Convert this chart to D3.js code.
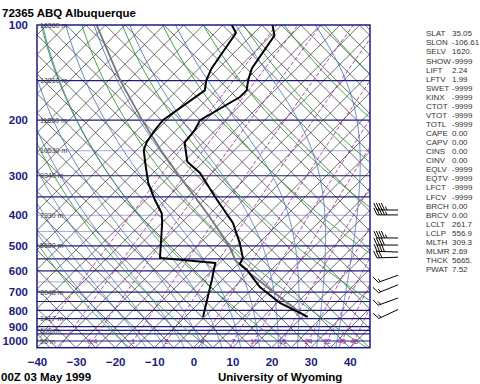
<!DOCTYPE html>
<html>
<head>
<meta charset="utf-8">
<script src="https://cdn.jsdelivr.net/npm/d3@7/dist/d3.min.js"></script>
<style>
  body { margin: 0; background: #fff; }
  svg { display: block; font-family: "Liberation Sans", Arial, sans-serif; }
</style>
</head>
<body>
<div id="chart"></div>
<script>
// sounding 72365 ABQ, 00Z 03 May 1999
const title = "72365 ABQ Albuquerque";
const dateLabel = "00Z 03 May 1999";
const sourceLabel = "University of Wyoming";

const pressureTicks = [100, 200, 300, 400, 500, 600, 700, 800, 900, 1000];
const tempTicks = [-40, -30, -20, -10, 0, 10, 20, 30, 40];
const darkIsobars = [150, 200, 300, 350, 500, 550, 600, 700, 750, 800, 850, 900, 925, 950, 1000];
const lightIsobars = [250, 400, 450, 650];

const heightP = [100, 150, 200, 250, 300, 400, 500, 700, 850, 925, 1000];
const heightLabels = ["16360 m", "13810 m", "11860 m", "10530 m", "9340 m", "7330 m", "5680 m", "3048 m", "1417 m", "690 m", "55 m"];

// temperature
const tempP = [100, 108, 137, 149, 161, 169, 200, 215, 235, 271, 294, 358, 423, 490, 546, 571, 596, 675, 758, 839];
const tempT = [-62.3, -59.1, -56.5, -54.5, -52.2, -52.2, -56.5, -55.3, -54.8, -49.1, -43.0, -31.7, -21.8, -14.9, -10.3, -9.5, -6.2, 1.5, 10.7, 21.4];
// dewpoint
const dewP = [100, 106, 137, 149, 161, 200, 215, 235, 249, 273, 316, 358, 394, 423, 479, 546, 566, 641, 742, 839];
const dewT = [-72.7, -69.6, -66.8, -65.2, -62.9, -66.0, -65.5, -64.5, -63.2, -59.6, -53.7, -47.6, -42.5, -39.9, -35.8, -31.5, -16.1, -12.6, -8.7, -5.4];
// lifted parcel
const parcelP = [839, 700, 600, 556.9, 500, 400, 300, 250, 200, 150, 100];
const parcelT = [21.0, 6.2, -5.9, -11.5, -16.8, -30.0, -47.6, -58.6, -71.3, -87.0, -107.3];

// background lines
const dryThetas = [-40, -20, 0, 20, 40, 60, 80, 100, 120, 140, 160, 180, 200];
const moistThetas = [-20, -15, -10, -5, 0, 5, 10, 15, 20, 25, 30, 35];
const mixRatios = [0.1, 0.2, 0.4, 1, 2, 4, 7, 10, 16, 24, 32, 40, 48];
const mixLabels = ["", "", "0.4", "1", "2", "4", "7", "10", "16", "24", "32", "40", "48"];

// winds (hPa, direction deg, speed kt)
const windP = [385, 399, 472, 497, 523, 543, 619, 664, 731, 795];
const windDir = [270, 270, 270, 270, 272, 268, 250, 248, 250, 245];
const windKt = [45, 45, 45, 40, 40, 30, 15, 15, 15, 15];

const indexNames = ["SLAT", "SLON", "SELV", "SHOW", "LIFT", "LFTV", "SWET", "KINX", "CTOT", "VTOT", "TOTL", "CAPE", "CAPV", "CINS", "CINV", "EQLV", "EQTV", "LFCT", "LFCV", "BRCH", "BRCV", "LCLT", "LCLP", "MLTH", "MLMR", "THCK", "PWAT"];
const indexValues = ["35.05", "-106.61", "1620.", "-9999", "2.24", "1.99", "-9999", "-9999", "-9999", "-9999", "-9999", "0.00", "0.00", "0.00", "0.00", "-9999", "-9999", "-9999", "-9999", "0.00", "0.00", "261.7", "556.9", "309.3", "2.69", "5665.", "7.52"];

const width = 480, height = 384;
const plotLeft = 37, plotRight = 370, plotTop = 25, pBottom = 1050;
const navy = "#1c1c80";

const svg = d3.select("#chart").append("svg")
  .attr("width", width).attr("height", height);

const y = d3.scaleLog().domain([100, pBottom]).range([plotTop, 347.7]);
const yBot = y(pBottom);
const t = d3.scaleLinear().domain([-40, 45]).range([plotLeft, plotLeft + 85 * 3.91]);
const skewX = (T, p) => t(T) + (yBot - y(p));

svg.append("defs").append("clipPath").attr("id", "plot")
  .append("rect").attr("x", plotLeft).attr("y", plotTop)
  .attr("width", plotRight - plotLeft).attr("height", yBot - plotTop);

const g = svg.append("g").attr("clip-path", "url(#plot)");
const line = d3.line().x(d => skewX(d[1], d[0])).y(d => y(d[0]));

// isobars
g.append("g").selectAll("line").data(lightIsobars).join("line")
  .attr("x1", plotLeft).attr("x2", plotRight)
  .attr("y1", d => y(d)).attr("y2", d => y(d))
  .attr("stroke", "#a8a8e0").attr("stroke-width", 1);
g.append("g").selectAll("line").data(darkIsobars).join("line")
  .attr("x1", plotLeft).attr("x2", plotRight)
  .attr("y1", d => y(d)).attr("y2", d => y(d))
  .attr("stroke", navy).attr("stroke-width", 1.2);

// isotherms, every 5 C
const isoT = d3.range(-150, 50, 5);
g.append("g").selectAll("line").data(isoT).join("line")
  .attr("x1", d => skewX(d, pBottom)).attr("y1", yBot)
  .attr("x2", d => skewX(d, 100)).attr("y2", plotTop)
  .attr("stroke", "#111").attr("stroke-width", 0.6);
// cross lines
g.append("g").selectAll("line").data(d3.range(-40, 200, 5)).join("line")
  .attr("x1", d => t(d)).attr("y1", yBot)
  .attr("x2", d => t(d) - (yBot - plotTop)).attr("y2", plotTop)
  .attr("stroke", "#111").attr("stroke-width", 0.6);

// dry adiabats
const pLevels = d3.range(pBottom, 95, -5);
const dryT = (th, p) => (th + 273.15) * Math.pow(p / 1000, 0.286) - 273.15;
g.append("g").selectAll("path").data(dryThetas).join("path")
  .attr("fill", "none").attr("stroke", "#2f9a2f").attr("stroke-width", 0.9)
  .attr("d", th => line(pLevels.map(p => [p, dryT(th, p)])));

// moist adiabats
const es = Tc => 6.112 * Math.exp(17.67 * Tc / (Tc + 243.5));
function moistPath(tw) {
  const out = [];
  const step = (T, p, dp) => {
    const Tc = T - 273.15, e = es(Tc), ws = 0.622 * e / (p - e);
    const num = 287.04 * T + 2.501e6 * ws;
    const den = p * (1005.7 + 2.501e6 * 2.501e6 * ws * 0.622 / (287.04 * T * T));
    return T + num / den * dp;
  };
  let T = tw + 273.15;
  for (let p = 1000; p >= 100; p -= 2) { out.push([p, T - 273.15]); T = step(T, p, -2); }
  T = tw + 273.15;
  const down = [];
  for (let p = 1000; p <= pBottom; p += 2) { down.push([p, T - 273.15]); T = step(T, p, 2); }
  return down.reverse().concat(out);
}
g.append("g").selectAll("path").data(moistThetas).join("path")
  .attr("fill", "none").attr("stroke", "#3a6ab0").attr("stroke-width", 0.8)
  .attr("d", tw => line(moistPath(tw)));

// mixing ratio lines
const mixT = (w, p) => {
  const e = w * p / (622 + w), l = Math.log(e / 6.112);
  return 243.5 * l / (17.67 - l);
};
g.append("g").selectAll("path").data(mixRatios).join("path")
  .attr("fill", "none").attr("stroke", "#9a1a9a").attr("stroke-width", 0.8)
  .attr("stroke-dasharray", "4,2")
  .attr("d", w => line(pLevels.map(p => [p, mixT(w, p)])));
svg.append("g").selectAll("text").data(mixRatios.map((w, i) => [w, mixLabels[i]])).join("text")
  .attr("x", d => skewX(mixT(d[0], 1000), 1000))
  .attr("y", y(1000) + 3)
  .attr("text-anchor", "middle")
  .attr("font-size", 7).attr("fill", "#9a1a9a")
  .text(d => d[1]);

// height labels
svg.append("g").selectAll("text").data(heightP).join("text")
  .attr("x", plotLeft + 3).attr("y", d => y(d) + 2.5)
  .attr("font-size", 7).attr("fill", "#444")
  .text((d, i) => heightLabels[i]);

// parcel, temperature, dewpoint
g.append("path").datum(parcelP.map((p, i) => [p, parcelT[i]]))
  .attr("fill", "none").attr("stroke", "#777").attr("stroke-width", 1.8).attr("d", line);
g.append("path").datum(tempP.map((p, i) => [p, tempT[i]]))
  .attr("fill", "none").attr("stroke", "#000").attr("stroke-width", 2).attr("d", line);
g.append("path").datum(dewP.map((p, i) => [p, dewT[i]]))
  .attr("fill", "none").attr("stroke", "#000").attr("stroke-width", 2).attr("d", line);

// frame
svg.append("rect").attr("x", plotLeft).attr("y", plotTop)
  .attr("width", plotRight - plotLeft).attr("height", yBot - plotTop)
  .attr("fill", "none").attr("stroke", navy).attr("stroke-width", 1.5);

// axes
svg.append("g").attr("transform", `translate(${plotLeft},0)`)
  .call(d3.axisLeft(y).tickValues(pressureTicks).tickSize(0).tickPadding(9).tickFormat(d3.format("d")))
  .call(a => a.select(".domain").remove())
  .call(a => a.selectAll("text").attr("font-size", 11.5).attr("font-weight", "bold")
    .attr("fill", navy).attr("font-family", "Liberation Sans, Arial, sans-serif"));
svg.append("g").attr("transform", `translate(0,${yBot})`)
  .call(d3.axisBottom(t).tickValues(tempTicks).tickSize(0).tickPadding(10).tickFormat(d3.format("d")))
  .call(a => a.select(".domain").remove())
  .call(a => a.selectAll("text").attr("font-size", 11.5).attr("font-weight", "bold")
    .attr("fill", navy).attr("font-family", "Liberation Sans, Arial, sans-serif"));

// titles
svg.append("text").attr("x", 2).attr("y", 17).attr("font-size", 11.5)
  .attr("font-weight", "bold").text(title);
svg.append("text").attr("x", 1).attr("y", 381).attr("font-size", 11.5)
  .attr("font-weight", "bold").text(dateLabel);
svg.append("text").attr("x", 218).attr("y", 381).attr("font-size", 11.5)
  .attr("font-weight", "bold").text(sourceLabel);

// wind barbs
const barbX = 398, staff = 21;
const barbs = svg.append("g").attr("stroke", "#000").attr("stroke-width", 1).attr("fill", "none");
windP.forEach((p, i) => {
  const a = windDir[i] * Math.PI / 180;
  const dx = Math.sin(a), dy = -Math.cos(a);
  const nx = -dy, ny = dx;
  const y0 = y(p);
  const tipX = barbX + dx * staff, tipY = y0 + dy * staff;
  barbs.append("line").attr("x1", barbX).attr("y1", y0).attr("x2", tipX).attr("y2", tipY);
  let kt = windKt[i], k = 0;
  while (kt >= 5) {
    const len = kt >= 10 ? 7 : 3.5;
    const bx = tipX - dx * k * 2.5, by = tipY - dy * k * 2.5;
    barbs.append("line").attr("x1", bx).attr("y1", by)
      .attr("x2", bx + nx * len + dx * len * 0.45).attr("y2", by + ny * len + dy * len * 0.45);
    kt -= kt >= 10 ? 10 : 5;
    k++;
  }
});

// station indices
const idx = svg.append("g").attr("font-size", 8).attr("fill", "#333");
idx.selectAll("text.n").data(indexNames).join("text").attr("class", "n")
  .attr("x", 426).attr("y", (d, i) => 36.3 + i * 9.07).text(d => d);
idx.selectAll("text.v").data(indexValues).join("text").attr("class", "v")
  .attr("x", 452).attr("y", (d, i) => 36.3 + i * 9.07).text(d => d);
</script>
</body>
</html>
